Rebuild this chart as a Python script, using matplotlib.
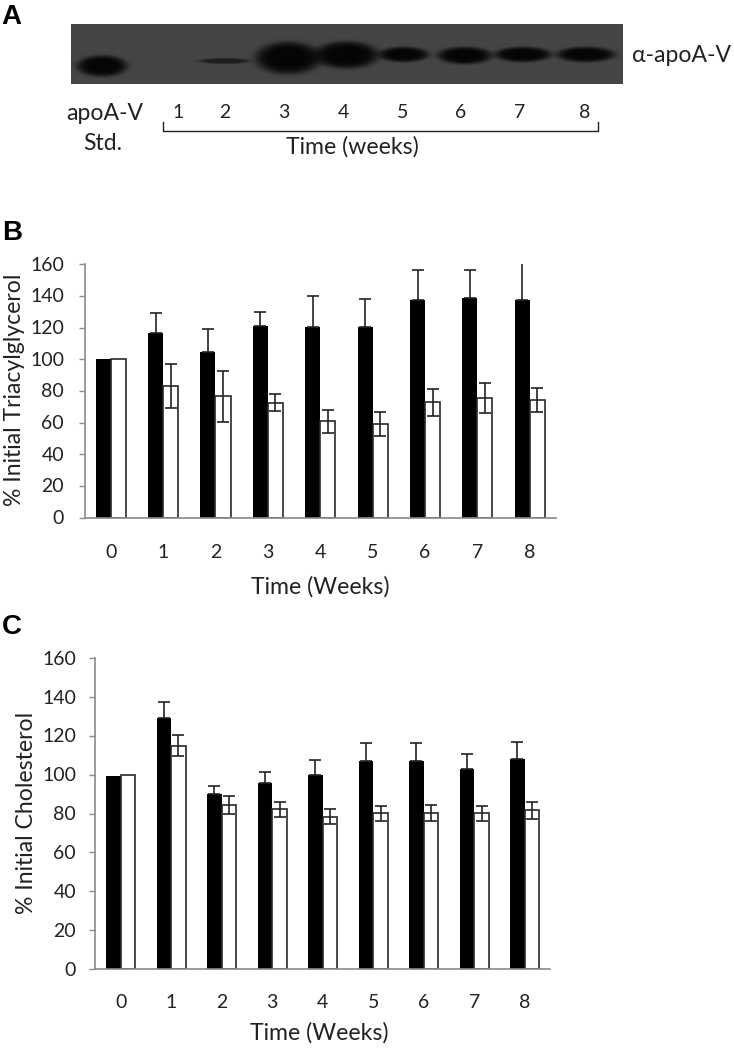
import numpy as np
import matplotlib
matplotlib.use("Agg")
import matplotlib.pyplot as plt

W, H = 734, 1050
FONT = "Lato"
plt.rcParams["font.family"] = [FONT, "DejaVu Sans"]

weeks = [0, 1, 2, 3, 4, 5, 6, 7, 8]
lane_labels = ["1", "2", "3", "4", "5", "6", "7", "8"]
lane_label_x = [178, 225, 284, 343, 403, 461, 520, 585]
# blot bands: centre x, centre y, half width, half height, strength (image pixels)
band_x = [102, 224, 288, 346, 403, 464, 522, 585]
band_y = [66, 61, 58, 55, 54.5, 55.5, 54.5, 54.5]
band_w = [25, 25, 33, 32, 25, 27, 28, 29]
band_h = [10.5, 3.0, 16, 13.5, 7.5, 8.5, 7.5, 7.5]
band_s = [1.0, 0.62, 1.0, 1.0, 1.0, 1.0, 1.0, 1.0]

tg_black = [100, 116.5, 104.6, 121.3, 120.3, 120.3, 137.5, 138.6, 137.5]
tg_black_top = [100, 129, 119, 130, 140, 138, 156.7, 156.5, 163]
tg_white = [100, 83.3, 77, 72.6, 60.8, 58.9, 73, 75.3, 74]
tg_white_top = [100, 97, 92.8, 78, 67.7, 66.5, 81.2, 85, 82]
tg_white_low = [100, 69.4, 60.3, 67.5, 53.6, 51.5, 64.3, 65.8, 66.5]

ch_black = [99.6, 129.1, 90.1, 96, 100, 107.3, 107, 103.2, 108]
ch_black_top = [99.6, 137.7, 94, 101.6, 107.5, 116.2, 116.2, 110.9, 116.7]
ch_white = [100, 115, 84.3, 82.2, 78.3, 80.2, 80.5, 80.2, 81.9]
ch_white_top = [100, 120.7, 89.3, 86.2, 82.2, 84, 84.6, 84, 86]
ch_white_low = [100, 109.9, 79.8, 78.5, 74.7, 76.2, 76.2, 76.2, 77.3]

y_ticks = [0, 20, 40, 60, 80, 100, 120, 140, 160]

fig = plt.figure(figsize=(W / 100, H / 100), dpi=100, facecolor="white")

def box(l, t, r, b):
    return [l / W, 1 - b / H, (r - l) / W, (b - t) / H]

# overlay in image pixels, for text and the bracket
ov = fig.add_axes([0, 0, 1, 1], zorder=5)
ov.set_xlim(0, W); ov.set_ylim(H, 0); ov.axis("off")

TEXT, NUM = 16.6, 14

def label(x, y, s, size=TEXT, color="#222222", **kw):
    kw.setdefault("ha", "center")
    ov.text(x, y, s, fontsize=size, color=color, va="center", **kw)

# Panel A: blot
L, T, R, B = 71, 24, 622, 84
xx, yy = np.meshgrid(np.arange(L, R) + .5, np.arange(T, B) + .5)
img = np.full(xx.shape, 0.27)
for cx, cy, hw, hh, s in zip(band_x, band_y, band_w, band_h, band_s):
    d = ((xx - cx) / hw) ** 2 + ((yy - cy) / hh) ** 2
    img = img - (img - 0.02) * s * np.exp(-d ** 3)
ax_blot = fig.add_axes(box(L, T, R, B))
ax_blot.imshow(img, cmap="gray", vmin=0, vmax=1, aspect="auto", interpolation="bilinear")
ax_blot.axis("off")

label(632, 55, "α-apoA-V", ha="left")
label(105, 113, "apoA-V")
label(103, 143, "Std.")
for x, s in zip(lane_label_x, lane_labels):
    label(x, 112, s, size=NUM)
ov.plot([163, 163, 598, 598], [122, 131, 131, 122], color="#222222", lw=1.0)
label(352, 147, "Time (weeks)")

for x, y, s in [(11, 17, "A"), (12, 233, "B"), (12, 627, "C")]:
    ov.text(x, y, s, fontsize=20, fontweight="bold", color="black",
            family="Liberation Sans", ha="center", va="center")

def panel(rect, black, black_top, white, white_top, white_low, width):
    ax = fig.add_axes(box(*rect))
    x = np.array(weeks, dtype=float)
    black, white = np.array(black), np.array(white)
    ax.bar(x - width / 2, black, width, color="black", lw=0, zorder=2)
    ax.bar(x + width / 2, white, width, color="white", edgecolor="#2a2a2a", lw=1.2, zorder=2)
    ek = dict(fmt="none", ecolor="#222222", elinewidth=1.2, capsize=4.4, capthick=1.2, zorder=3)
    ax.errorbar((x - width / 2)[1:], black[1:],
                yerr=[np.zeros(8), (np.array(black_top) - black)[1:]], **ek)
    ax.errorbar((x + width / 2)[1:], white[1:],
                yerr=[(white - np.array(white_low))[1:], (np.array(white_top) - white)[1:]], **ek)
    ax.set_xlim(-0.5, 8.5)
    ax.set_ylim(0, 160)
    ax.set_yticks(y_ticks)
    ax.set_xticks([])
    ax.tick_params(axis="y", length=4.5, width=1, color="#8a8a8a", labelleft=False)
    for side in ("top", "right"):
        ax.spines[side].set_visible(False)
    for side in ("left", "bottom"):
        ax.spines[side].set_color("#8a8a8a")
        ax.spines[side].set_linewidth(1.2)
    return ax

# Panel B
rect_b = (84.5, 264.3, 556, 517.5)
panel(rect_b, tg_black, tg_black_top, tg_white, tg_white_top, tg_white_low, 0.287)
for v in y_ticks:
    label(64, 517.5 - v * (517.5 - 264.3) / 160 + 1, str(v), size=NUM, ha="right")
for w in weeks:
    label(110.7 + w * 52.4, 552, str(w), size=NUM)
label(320, 587, "Time (Weeks)")
label(15, 390, "% Initial Triacylglycerol", rotation=90)

# Panel C
rect_c = (95.4, 658.3, 550, 969)
panel(rect_c, ch_black, ch_black_top, ch_white, ch_white_top, ch_white_low, 0.29)
for v in y_ticks:
    label(76, 969 - v * (969 - 658.3) / 160 + 1, str(v), size=NUM, ha="right")
for w in weeks:
    label(120.7 + w * 50.5, 1003, str(w), size=NUM)
label(319, 1033, "Time (Weeks)")
label(27, 813, "% Initial Cholesterol", rotation=90)

fig.savefig("out.png", dpi=100)
